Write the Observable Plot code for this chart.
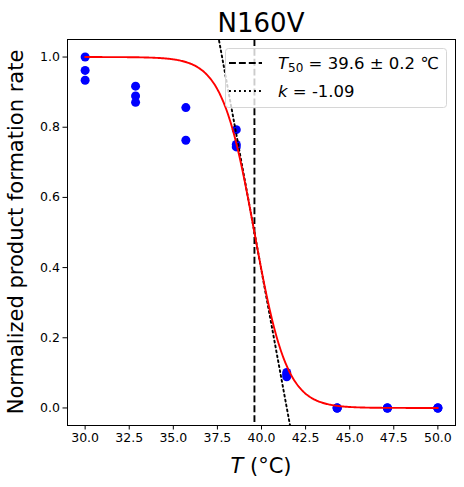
<!DOCTYPE html>
<html><head><meta charset="utf-8">
<script src="https://cdn.jsdelivr.net/npm/d3@7"></script>
<script src="https://cdn.jsdelivr.net/npm/@observablehq/plot@0.6"></script>
<style>body{margin:0;background:#fff} svg{display:block}</style>
</head><body><div id="chart"></div>
<script>
const chartTitle = "N160V";
const temps = [30, 32.86, 35.71, 38.57, 41.43, 44.29, 47.14, 50];
const rep1 = [1.000, 0.917, 0.856, 0.793, 0.101, 0.000, 0.000, 0.000];
const rep2 = [0.962, 0.889, 0.763, 0.751, 0.095, 0.000, 0.000, 0.000];
const rep3 = [0.934, 0.871, null, 0.744, 0.089, 0.000, 0.000, 0.000];
const T50 = 39.6, T50err = 0.2, k = -1.09;
const xTicks = [30, 32.5, 35, 37.5, 40, 42.5, 45, 47.5, 50];
const yTicks = [0, 0.2, 0.4, 0.6, 0.8, 1.0];

const points = [];
[rep1, rep2, rep3].forEach(r => r.forEach((v, i) => { if (v != null) points.push({T: temps[i], y: v}); }));
// fitted logistic model with the parameters printed in the legend
const fitT = d3.range(30, 50.0001, 0.05);
const fit = fitT.map(T => ({T, y: 1 / (1 + Math.exp(-k * (T - T50)))}));
const tangent = [36, 43].map(T => ({T, y: 0.5 + k / 4 * (T - T50)}));

const W = 464, H = 487, mL = 67, mR = 9, mT = 39, mB = 62;
const plot = Plot.plot({
  width: W, height: H, marginLeft: mL, marginRight: mR, marginTop: mT, marginBottom: mB,
  style: {fontFamily: "DejaVu Sans", fontSize: "12.5px", color: "black", background: "white"},
  x: {domain: [29, 51], ticks: xTicks, tickFormat: d => d.toFixed(1), tickSize: 4.5, tickPadding: 3, label: null},
  y: {domain: [-0.05, 1.05], ticks: yTicks, tickFormat: d => d.toFixed(1), tickSize: 4.5, tickPadding: 3, label: null},
  marks: [
    Plot.dot(points, {x: "T", y: "y", r: 4.5, fill: "blue", stroke: null}),
    Plot.ruleX([T50], {stroke: "black", strokeWidth: 1.9, strokeDasharray: "6.9,3"}),
    Plot.line(tangent, {x: "T", y: "y", stroke: "black", strokeWidth: 1.9, strokeDasharray: "1.9,3.1", clip: true}),
    Plot.line(fit, {x: "T", y: "y", stroke: "red", strokeWidth: 1.9}),
    Plot.frame({stroke: "black", strokeWidth: 1})
  ]
});
document.getElementById("chart").appendChild(plot);

const svg = d3.select(plot);
const cx = mL + (W - mL - mR) / 2, cy = mT + (H - mT - mB) / 2;
svg.append("text").attr("x", cx).attr("y", 32).attr("text-anchor", "middle")
  .attr("font-size", 26).attr("fill", "black").text(chartTitle);
svg.append("text").attr("transform", `translate(17,${cy}) rotate(-90)`).attr("text-anchor", "middle")
  .attr("dominant-baseline", "middle").attr("font-size", 21).attr("fill", "black")
  .text("Normalized product formation rate");
const xl = svg.append("text").attr("x", cx).attr("y", 473).attr("text-anchor", "middle")
  .attr("font-size", 21).attr("fill", "black");
xl.append("tspan").attr("font-style", "italic").text("T");
xl.append("tspan").text(" (°C)");

// legend
const lg = svg.append("g").attr("font-size", 16.5).attr("text-anchor", "start");
lg.append("rect").attr("x", 225.5).attr("y", 48.5).attr("width", 221).attr("height", 59).attr("rx", 3)
  .attr("fill", "white").attr("fill-opacity", 0.8).attr("stroke", "#d6d6d6");
lg.append("line").attr("x1", 229).attr("x2", 262).attr("y1", 63).attr("y2", 63)
  .attr("stroke", "black").attr("stroke-width", 1.9).attr("stroke-dasharray", "6.9,3");
lg.append("line").attr("x1", 229).attr("x2", 262).attr("y1", 91).attr("y2", 91)
  .attr("stroke", "black").attr("stroke-width", 1.9).attr("stroke-dasharray", "1.9,3.1");
const t1 = lg.append("text").attr("x", 278).attr("y", 69).attr("fill", "black").attr("text-anchor", "start");
t1.append("tspan").attr("font-style", "italic").text("T");
t1.append("tspan").attr("font-size", 12).attr("dy", 3).text("50");
t1.append("tspan").attr("dy", -3).text(` = ${T50.toFixed(1)} ± ${T50err.toFixed(1)} ℃`);
const t2 = lg.append("text").attr("x", 278).attr("y", 97).attr("fill", "black").attr("text-anchor", "start");
t2.append("tspan").attr("font-style", "italic").text("k");
t2.append("tspan").text(` = ${k.toFixed(2)}`);
</script></body></html>
